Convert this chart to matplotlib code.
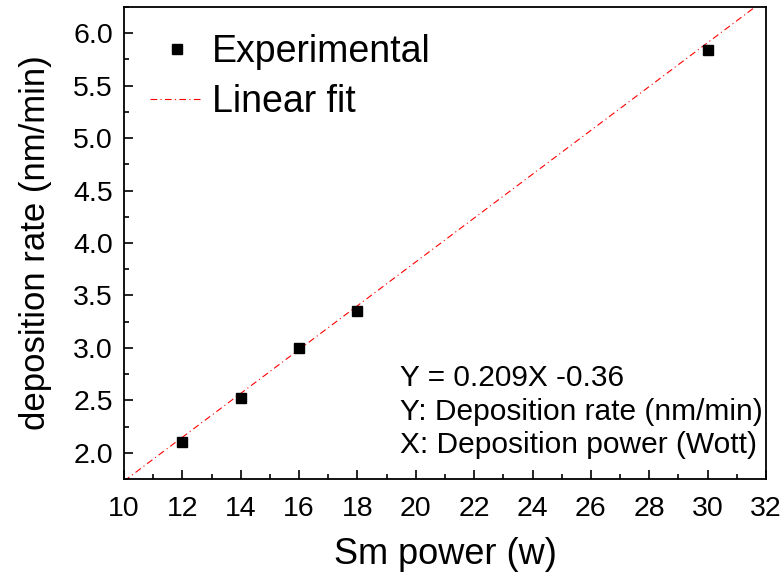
import numpy as np
import matplotlib.pyplot as plt
from matplotlib.ticker import MultipleLocator

plt.rcParams['font.family'] = ['Liberation Sans', 'DejaVu Sans']

power = [12, 14, 16, 18, 30]
rate = [2.1, 2.52, 3.0, 3.35, 5.84]
slope = 0.209
intercept = -0.36
fit_x = np.array([10, 32])

fig = plt.figure(figsize=(7.84, 5.8), dpi=100)
ax = fig.add_axes([124/784, 1 - 479/580, (766 - 124)/784, (479 - 7)/580])

ax.plot(power, rate, 's', color='black', markersize=7.5, label='Experimental', zorder=3)
ax.plot(fit_x, slope * fit_x + intercept, '-.', color='red', linewidth=0.8,
        dashes=(6, 3, 1, 3), label='Linear fit')

ax.set_xlim(10, 32)
ax.set_ylim(1.75, 6.25)
ax.xaxis.set_major_locator(MultipleLocator(2))
ax.xaxis.set_minor_locator(MultipleLocator(1))
ax.yaxis.set_major_locator(MultipleLocator(0.5))
ax.yaxis.set_minor_locator(MultipleLocator(0.25))
ax.yaxis.set_major_formatter(plt.FormatStrFormatter('%.1f'))
ax.tick_params(which='both', direction='in', top=False, right=False, width=1.2)
ax.tick_params(which='major', length=6.5, labelsize=20.5)
ax.tick_params(axis='x', which='major', pad=12)
ax.tick_params(axis='y', which='major', pad=8)
ax.tick_params(which='minor', length=3.5)
for s in ax.spines.values():
    s.set_linewidth(1.3)

ax.set_xlabel('Sm power (w)', fontsize=26, labelpad=11)
ax.set_ylabel('deposition rate (nm/min)', fontsize=25, labelpad=15)

ax.legend(loc='upper left', bbox_to_anchor=(0.0, 0.998), frameon=False, fontsize=27,
          handlelength=1.4, handletextpad=0.25, labelspacing=0.36, borderaxespad=0.3)

ax.text(0.43, 0.142, 'Y = 0.209X -0.36\nY: Deposition rate (nm/min)\nX: Deposition power (Wott)',
        transform=ax.transAxes, fontsize=21.5, va='center', ha='left', linespacing=1.25)

fig.savefig('out.png', dpi=100)
